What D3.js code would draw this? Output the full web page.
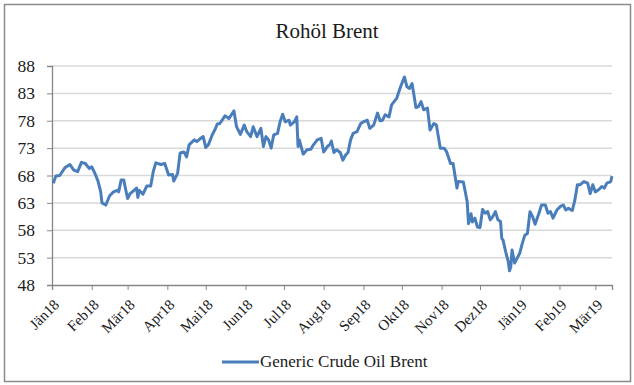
<!DOCTYPE html>
<html>
<head>
<meta charset="utf-8">
<script src="https://cdn.jsdelivr.net/npm/d3@7"></script>
<style>
  body { margin: 0; background: #fff; }
  text { font-family: "Liberation Serif", "DejaVu Serif", serif; fill: #1a1a1a; }
</style>
</head>
<body>
<div id="chart"></div>
<script>
// Titel und Legende
const title = "Rohöl Brent";
const seriesName = "Generic Crude Oil Brent";

// Achsenbeschriftungen
const yTicks = [48, 53, 58, 63, 68, 73, 78, 83, 88];
const monthLabels = ["Jän18", "Feb18", "Mär18", "Apr18", "Mai18", "Jun18", "Jul18", "Aug18",
    "Sep18", "Okt18", "Nov18", "Dez18", "Jän19", "Feb19", "Mär19"];
const monthStarts = ["2018-01-01", "2018-02-01", "2018-03-01", "2018-04-01", "2018-05-01", "2018-06-01",
    "2018-07-01", "2018-08-01", "2018-09-01", "2018-10-01", "2018-11-01", "2018-12-01",
    "2019-01-01", "2019-02-01", "2019-03-01"];
const dateRange = ["2018-01-01", "2019-03-14"];

// Daten
const dates = [
    "2018-01-02", "2018-01-04", "2018-01-07", "2018-01-11", "2018-01-15", "2018-01-18", "2018-01-21", "2018-01-24",
    "2018-01-27", "2018-01-30", "2018-02-01", "2018-02-04", "2018-02-06", "2018-02-08", "2018-02-09", "2018-02-12",
    "2018-02-13", "2018-02-15", "2018-02-18", "2018-02-21", "2018-02-22", "2018-02-24", "2018-02-26", "2018-02-27",
    "2018-03-01", "2018-03-03", "2018-03-06", "2018-03-08", "2018-03-09", "2018-03-10", "2018-03-13", "2018-03-16",
    "2018-03-19", "2018-03-21", "2018-03-23", "2018-03-27", "2018-03-30", "2018-04-02", "2018-04-05", "2018-04-06",
    "2018-04-09", "2018-04-11", "2018-04-14", "2018-04-16", "2018-04-18", "2018-04-22", "2018-04-24", "2018-04-27",
    "2018-04-29", "2018-05-01", "2018-05-03", "2018-05-06", "2018-05-08", "2018-05-10", "2018-05-12", "2018-05-16",
    "2018-05-19", "2018-05-23", "2018-05-25", "2018-05-28", "2018-05-31", "2018-06-02", "2018-06-05", "2018-06-07",
    "2018-06-10", "2018-06-13", "2018-06-15", "2018-06-17", "2018-06-19", "2018-06-21", "2018-06-23", "2018-06-26",
    "2018-06-28", "2018-06-30", "2018-07-02", "2018-07-05", "2018-07-06", "2018-07-09", "2018-07-11", "2018-07-12",
    "2018-07-13", "2018-07-16", "2018-07-19", "2018-07-22", "2018-07-24", "2018-07-27", "2018-07-30", "2018-08-01",
    "2018-08-04", "2018-08-06", "2018-08-07", "2018-08-09", "2018-08-11", "2018-08-14", "2018-08-16", "2018-08-18",
    "2018-08-20", "2018-08-22", "2018-08-24", "2018-08-27", "2018-08-30", "2018-09-01", "2018-09-04", "2018-09-06",
    "2018-09-09", "2018-09-12", "2018-09-14", "2018-09-16", "2018-09-18", "2018-09-21", "2018-09-23", "2018-09-26",
    "2018-09-27", "2018-09-30", "2018-10-01", "2018-10-03", "2018-10-05", "2018-10-07", "2018-10-09", "2018-10-12",
    "2018-10-14", "2018-10-16", "2018-10-18", "2018-10-21", "2018-10-23", "2018-10-26", "2018-10-28", "2018-10-31",
    "2018-11-03", "2018-11-05", "2018-11-08", "2018-11-10", "2018-11-13", "2018-11-14", "2018-11-18", "2018-11-21",
    "2018-11-22", "2018-11-24", "2018-11-25", "2018-11-27", "2018-11-29", "2018-12-01", "2018-12-03", "2018-12-05",
    "2018-12-07", "2018-12-09", "2018-12-11", "2018-12-13", "2018-12-15", "2018-12-17", "2018-12-18", "2018-12-19",
    "2018-12-21", "2018-12-23", "2018-12-24", "2018-12-25", "2018-12-26", "2018-12-28", "2018-12-30", "2019-01-01",
    "2019-01-03", "2019-01-05", "2019-01-07", "2019-01-09", "2019-01-11", "2019-01-13", "2019-01-16", "2019-01-18",
    "2019-01-21", "2019-01-23", "2019-01-25", "2019-01-27", "2019-01-30", "2019-02-02", "2019-02-04", "2019-02-06",
    "2019-02-08", "2019-02-11", "2019-02-13", "2019-02-15", "2019-02-17", "2019-02-20", "2019-02-23", "2019-02-25",
    "2019-02-27", "2019-03-01", "2019-03-04", "2019-03-06", "2019-03-08", "2019-03-10", "2019-03-13", "2019-03-14"
];
const prices = [
    66.6, 67.9, 68.0, 69.4, 70.0, 69.0, 68.7, 70.4,
    70.2, 69.3, 69.6, 68.1, 66.9, 65.0, 63.0, 62.6,
    63.2, 64.3, 65.0, 65.3, 65.0, 67.2, 67.2, 66.0,
    63.8, 64.7, 65.3, 65.7, 64.0, 65.3, 64.6, 66.1,
    66.1, 68.7, 70.3, 70.0, 70.2, 68.1, 68.2, 67.0,
    68.4, 72.1, 72.3, 71.4, 73.6, 74.5, 74.2, 74.8,
    75.1, 73.1, 73.6, 75.4, 76.3, 77.4, 77.5, 78.9,
    78.4, 79.8, 76.9, 75.5, 77.2, 76.0, 75.1, 76.9,
    75.1, 76.6, 73.3, 75.1, 74.5, 73.0, 75.4, 75.7,
    77.8, 79.2, 77.8, 78.1, 77.2, 77.8, 78.7, 73.3,
    74.5, 71.9, 72.7, 72.8, 73.6, 74.5, 74.8, 72.3,
    73.3, 73.7, 74.3, 72.2, 72.7, 72.2, 70.8, 71.7,
    72.2, 74.5, 75.7, 76.0, 77.5, 77.8, 78.1, 76.6,
    77.2, 79.4, 78.0, 78.1, 79.1, 78.7, 80.9, 81.8,
    82.1, 84.2, 84.8, 86.0, 84.2, 83.9, 84.8, 80.4,
    80.6, 81.5, 80.0, 80.3, 76.3, 77.5, 77.2, 73.0,
    73.0, 72.3, 70.2, 70.2, 65.7, 66.9, 66.8, 63.2,
    59.2, 61.0, 59.5, 60.2, 58.6, 58.5, 61.8, 61.1,
    61.4, 59.9, 60.5, 61.4, 59.9, 59.6, 56.5, 56.2,
    54.1, 52.3, 50.6, 51.3, 54.4, 52.0, 52.9, 53.8,
    55.6, 57.1, 57.4, 61.4, 60.5, 59.1, 61.1, 62.6,
    62.6, 61.1, 61.4, 60.2, 61.7, 62.4, 62.6, 61.7,
    62.0, 61.6, 63.5, 66.3, 66.3, 66.9, 66.6, 64.7,
    66.3, 65.0, 65.5, 66.0, 65.7, 66.6, 66.9, 67.9
];

const parseDate = d3.timeParse("%Y-%m-%d");
const data = dates.map((d, i) => ({ date: parseDate(d), value: prices[i] }));

const W = 634, H = 385;
const margin = { top: 66, right: 22, bottom: 100, left: 52 };
const width = 612 - margin.left,
    height = 285 - margin.top;

const root = d3.select("#chart").append("svg")
    .attr("width", W)
    .attr("height", H);

// Rahmen
root.append("rect")
    .attr("x", 4.5).attr("y", 4.5)
    .attr("width", 626).attr("height", 377)
    .attr("fill", "#fff")
    .attr("stroke", "#8a8a8a")
    .attr("stroke-width", 1.5);

root.append("text")
    .attr("x", 327).attr("y", 38)
    .attr("text-anchor", "middle")
    .style("font-size", "21px")
    .text(title);

const svg = root.append("g")
    .attr("transform", `translate(${margin.left}, ${margin.top})`);

const x = d3.scaleTime()
    .domain(dateRange.map(parseDate))
    .range([0, width]);

const y = d3.scaleLinear()
    .domain([48, 88])
    .range([height, 0]);

// Gitterlinien
svg.selectAll(".grid")
    .data(yTicks.slice(1))
    .enter()
    .append("line")
    .attr("x1", 0)
    .attr("x2", width)
    .attr("y1", d => y(d))
    .attr("y2", d => y(d))
    .attr("stroke", "#d9d9d9")
    .attr("stroke-width", 1.5);

// y-Achse
svg.append("g")
    .call(d3.axisLeft(y).tickValues(yTicks).tickSize(5).tickPadding(12).tickFormat(d3.format("d")))
    .call(g => g.select(".domain").attr("stroke", "#868686").attr("stroke-width", 1.3))
    .call(g => g.selectAll(".tick line").attr("stroke", "#868686"))
    .selectAll("text")
    .style("font-size", "17.5px")
    .style("font-family", "Liberation Serif")
    .attr("fill", "#1a1a1a");

// x-Achse
svg.append("g")
    .attr("transform", `translate(0, ${height})`)
    .call(d3.axisBottom(x).tickValues(monthStarts.map(parseDate)).tickSize(5)
        .tickFormat((d, i) => monthLabels[i]))
    .call(g => g.select(".domain").attr("stroke", "#868686").attr("stroke-width", 1.3))
    .call(g => g.selectAll(".tick line").attr("stroke", "#868686"))
    .selectAll("text")
    .style("font-size", "15px")
    .style("font-family", "Liberation Serif")
    .attr("fill", "#1a1a1a")
    .attr("text-anchor", "end")
    .attr("dx", 0)
    .attr("dy", 0)
    .attr("transform", "translate(2, 15) rotate(-45)");

const line = d3.line()
    .x(d => x(d.date))
    .y(d => y(d.value));

svg.append("path")
    .datum(data)
    .attr("fill", "none")
    .attr("stroke", "#4a7ebb")
    .attr("stroke-width", 3)
    .attr("stroke-linejoin", "round")
    .attr("d", line);

// Legende
const legend = root.append("g").attr("transform", "translate(222, 362)");
legend.append("line")
    .attr("x1", 0).attr("x2", 37)
    .attr("y1", 0).attr("y2", 0)
    .attr("stroke", "#4a7ebb")
    .attr("stroke-width", 3);
legend.append("text")
    .attr("x", 38).attr("y", 5)
    .style("font-size", "17px")
    .text(seriesName);
</script>
</body>
</html>
